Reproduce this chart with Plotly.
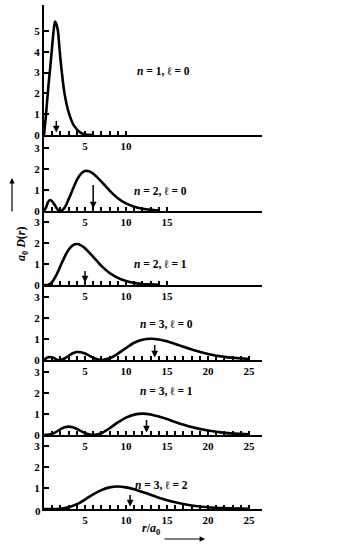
import plotly.graph_objects as go

# ---------------- data ----------------
r_1s = [0, 0.25, 0.5, 0.75, 1.0, 1.2, 1.35, 1.5, 1.7, 1.9, 2.15, 2.5, 3.0, 3.65, 4.5, 5.1, 6.0]
D_1s = [0, 1.0, 2.2, 3.2, 4.3, 5.1, 5.45, 5.35, 5.0, 4.1, 3.1, 2.0, 1.1, 0.45, 0.1, 0.02, 0.0]

r_2s = [0, 0.25, 0.5, 0.75, 1.0, 1.25, 1.5, 1.75, 2.0, 2.5, 3, 3.5, 4, 4.5, 5, 5.5, 6, 6.5, 7, 8, 9, 10, 11, 12, 13, 14]
D_2s = [0, 0.17, 0.43, 0.52, 0.46, 0.32, 0.16, 0.04, 0, 0.15, 0.56, 1.02, 1.47, 1.77, 1.90, 1.89, 1.78, 1.60, 1.40, 0.97, 0.61, 0.36, 0.20, 0.11, 0.06, 0.03]

r_2p = [0, 0.5, 1, 1.5, 2, 2.5, 3, 3.5, 4, 4.5, 5, 6, 7, 8, 9, 10, 11, 12, 13, 14]
D_2p = [0, 0.01, 0.15, 0.47, 0.90, 1.33, 1.68, 1.89, 1.95, 1.89, 1.75, 1.34, 0.91, 0.57, 0.34, 0.19, 0.10, 0.05, 0.03, 0.01]

r_3s = [0, 0.5, 1, 1.5, 1.9, 2.5, 3, 3.5, 4, 4.5, 5, 5.5, 6, 6.5, 7.1, 8, 9, 10, 11, 12, 13, 14, 15, 16, 18, 20, 22, 25]
D_3s = [0, 0.13, 0.13, 0.03, 0, 0.07, 0.20, 0.32, 0.38, 0.37, 0.31, 0.21, 0.11, 0.03, 0, 0.08, 0.30, 0.57, 0.82, 0.96, 1.01, 0.98, 0.89, 0.76, 0.50, 0.29, 0.15, 0.05]

r_3p = [0, 1, 2, 2.5, 3, 3.5, 4, 5, 6, 7, 8, 9, 10, 11, 12, 13, 14, 15, 16, 18, 20, 22, 25]
D_3p = [0, 0.05, 0.27, 0.37, 0.40, 0.37, 0.29, 0.09, 0, 0.09, 0.32, 0.60, 0.83, 0.97, 1.02, 0.98, 0.88, 0.76, 0.62, 0.38, 0.21, 0.10, 0.03]

r_3d = [0, 2, 3, 4, 5, 6, 7, 8, 9, 10, 11, 12, 13, 14, 16, 18, 20, 22, 25]
D_3d = [0, 0.01, 0.08, 0.23, 0.45, 0.70, 0.90, 1.03, 1.07, 1.03, 0.94, 0.81, 0.68, 0.54, 0.32, 0.17, 0.08, 0.04, 0.01]

labels = ["<i>n</i> = 1, ℓ = 0", "<i>n</i> = 2, ℓ = 0", "<i>n</i> = 2, ℓ = 1",
          "<i>n</i> = 3, ℓ = 0", "<i>n</i> = 3, ℓ = 1", "<i>n</i> = 3, ℓ = 2"]
mean_r = [1.5, 6, 5, 13.5, 12.5, 10.5]          # arrows at <r>
x_tick_max = [10, 15, 15, 25, 25, 25]
y_tick_labels = [[0, 1, 2, 3, 4, 5], [0, 1, 2, 3], [0, 1, 2, 3], [0, 1, 2, 3], [0, 1, 2, 3], [1, 2, 3]]
curves = [(r_1s, D_1s), (r_2s, D_2s), (r_2p, D_2p), (r_3s, D_3s), (r_3p, D_3p), (r_3d, D_3d)]

# ---------------- layout geometry ----------------
W, H = 355, 555
L, R, T, B = 44, 93, 5, 46
PW, PH = W - L - R, H - T - B
PX_PER_R = 8.2
PX_PER_D = 21.0
baselines = [135, 211, 285, 360, 435, 509]
tops = [5] + baselines[:-1]
label_pos = [(14.6, 3.08), (14.2, 0.95), (14.2, 1.0), (14.9, 1.7), (14.9, 2.1), (14.3, 1.15)]
arrow_len = [13, 25, 13, 14, 14, 13]

def px2paper(px, py):
    return (px - L) / PW, (H - B - py) / PH

FONT = "Liberation Serif, DejaVu Serif, serif"
tickfont = dict(family=FONT, size=11, color="black", weight="bold")

fig = go.Figure()
lay = {}
ann = []
xrange_max = PW / PX_PER_R
for i, (r, D) in enumerate(curves):
    n = i + 1
    xa = "x" if n == 1 else f"x{n}"
    ya = "y" if n == 1 else f"y{n}"
    fig.add_trace(go.Scatter(x=r, y=D, mode="lines", xaxis=xa, yaxis=ya,
                             line=dict(color="black", width=2.6, shape="spline", smoothing=0.8),
                             showlegend=False, hoverinfo="skip"))
    h_px = baselines[i] - tops[i]
    ppd = 20.8 if i == 0 else PX_PER_D
    ymax = h_px / ppd
    d0 = (H - B - baselines[i]) / PH
    d1 = (H - B - tops[i]) / PH
    tv = list(range(1, x_tick_max[i] + 1))
    tt = [str(v) if v % 5 == 0 else "" for v in tv]
    lay[f"xaxis{n}"] = dict(domain=[0, 1], anchor=ya, range=[0, xrange_max], automargin=False,
                            showline=True, linewidth=2, linecolor="black",
                            ticks="inside", ticklen=4, tickwidth=1.5, tickcolor="black",
                            tickmode="array", tickvals=tv, ticktext=tt, tickfont=tickfont,
                            showgrid=False, zeroline=False, fixedrange=True)
    lay[f"yaxis{n}"] = dict(domain=[d0, d1], anchor=xa, range=[0, ymax], automargin=False,
                            showline=True, linewidth=2, linecolor="black",
                            ticks="inside", ticklen=5, tickwidth=1.5, tickcolor="black",
                            tickmode="array", tickvals=y_tick_labels[i],
                            ticktext=[str(v) for v in y_tick_labels[i]], tickfont=tickfont,
                            showgrid=False, zeroline=False, fixedrange=True)
    lx, ly = label_pos[i]
    ann.append(dict(x=lx, y=ly, xref=xa, yref=ya, text=labels[i], showarrow=False,
                    font=dict(family=FONT, size=11.5, color="black", weight="bold")))
    ann.append(dict(x=mean_r[i], y=0.12, xref=xa, yref=ya, text="", showarrow=True,
                    ax=0, ay=-arrow_len[i], arrowhead=2, arrowsize=0.9, arrowwidth=1.5,
                    arrowcolor="black", standoff=0))

# x-axis "0" label for the bottom panel
x0, y0 = px2paper(33, 519)
ann.append(dict(x=x0, y=y0, xref="paper", yref="paper", text="0", showarrow=False,
                font=tickfont))

# y title (rotated) with arrow
tx, ty = px2paper(12, 244)
ann.append(dict(x=tx, y=ty, xref="paper", yref="paper", textangle=-90, showarrow=False,
                text="<i>a</i><sub>0</sub> <i>D</i>(<i>r</i>)",
                font=dict(family=FONT, size=12, color="black", weight="bold")))
ax0, ay0 = px2paper(12, 178)
ann.append(dict(x=ax0, y=ay0, xref="paper", yref="paper", text="", showarrow=True,
                ax=0, ay=35, arrowhead=2, arrowsize=0.9, arrowwidth=1.2, arrowcolor="black",
                standoff=0))

# x title with arrow
tx, ty = px2paper(151, 539)
ann.append(dict(x=tx, y=ty, xref="paper", yref="paper", showarrow=False,
                text="<i>r</i>/<i>a</i><sub>0</sub>",
                font=dict(family=FONT, size=12, color="black", weight="bold")))
ax1, ay1 = px2paper(205, 539)
ann.append(dict(x=ax1, y=ay1, xref="paper", yref="paper", text="", showarrow=True,
                ax=-42, ay=0, arrowhead=2, arrowsize=0.9, arrowwidth=1.2, arrowcolor="black",
                standoff=0))

fig.update_layout(width=W, height=H, margin=dict(l=L, r=R, t=T, b=B),
                  paper_bgcolor="white", plot_bgcolor="white", annotations=ann, **lay)
fig.write_html("out.html", config={"displayModeBar": False},
               post_script="document.body.style.margin='0';document.body.style.padding='0';")
